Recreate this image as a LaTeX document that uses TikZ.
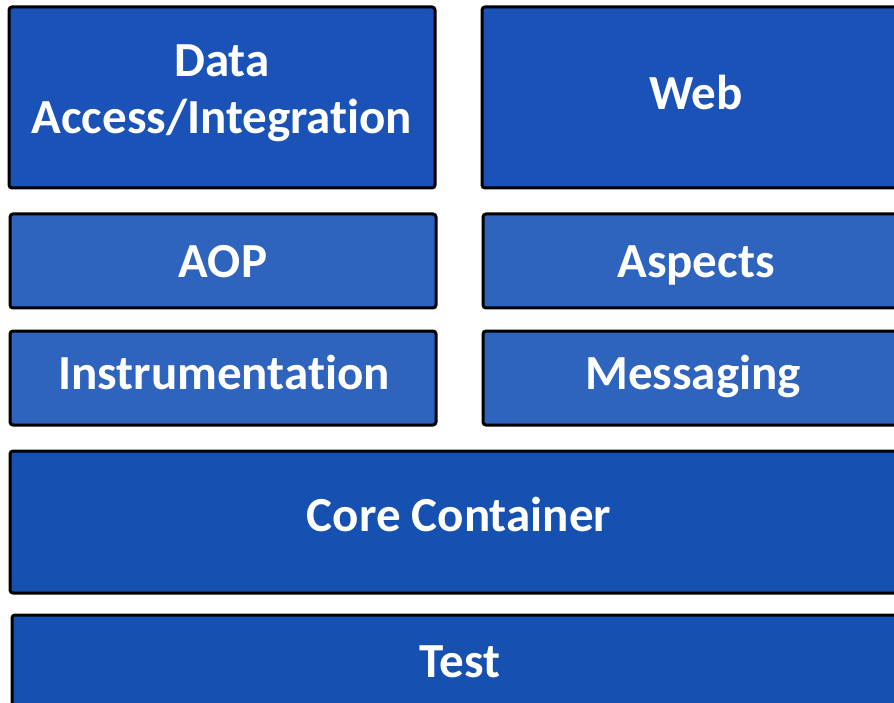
\documentclass[tikz,border=0pt]{standalone}
\usepackage{fontspec}
\setmainfont[Ligatures=NoCommon]{Carlito}
\definecolor{blockdark}{HTML}{1A52B8}
\definecolor{blockcore}{HTML}{1650B0}
\definecolor{blocklight}{HTML}{2E63BE}
\begin{document}
\begin{tikzpicture}[x=1pt,y=-1pt,
  block/.style={draw=black, line width=3pt, rounded corners=3pt},
  label/.style={anchor=base, text=white, font=\fontsize{49}{57}\selectfont\bfseries, inner sep=0pt}]
\useasboundingbox (0,0) rectangle (894,703);
\clip (0,0) rectangle (894,703);
% upper row
\draw[block, fill=blockdark] (9,7) rectangle (435,188);
\draw[block, fill=blockdark] (482,7) rectangle (910,188);
% middle rows
\draw[block, fill=blocklight] (10,214) rectangle (436,308);
\draw[block, fill=blocklight] (483,214) rectangle (910,308);
\draw[block, fill=blocklight] (10,331) rectangle (436,425);
\draw[block, fill=blocklight] (483,331) rectangle (910,425);
% full-width layers
\draw[block, fill=blockcore] (10,451) rectangle (910,593);
\draw[block, fill=blockcore] (12,615) rectangle (910,730);
% labels
\node[label] (data) at (222,77) {Data};
\node[label] (access) at (222,134) {Access/Integration};
\node[label] (web) at (696,110) {Web};
\node[label] (aop) at (223,278) {AOP};
\node[label] (aspects) at (696,278) {Aspects};
\node[label] (instr) at (224,389) {Instrumentation};
\node[label] (msg) at (693,389) {Messaging};
\node[label] (core) at (459,531) {Core Container};
\node[label] (test) at (460,677) {Test};
\end{tikzpicture}
\end{document}
